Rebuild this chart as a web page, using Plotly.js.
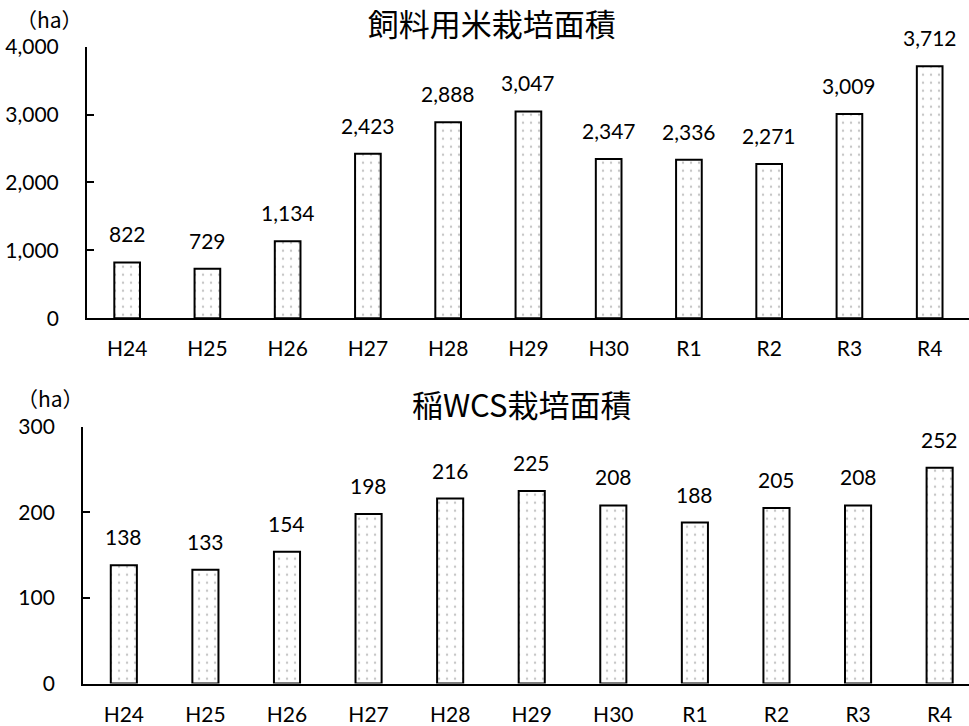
<!DOCTYPE html>
<html>
<head>
<meta charset="utf-8">
<script src="https://cdn.plot.ly/plotly-3.0.1.min.js"></script>
<style>html,body{margin:0;padding:0;background:#fff;}#chart{width:969px;height:726px;}</style>
</head>
<body>
<div id="chart"></div>
<script>
const categories = ["H24","H25","H26","H27","H28","H29","H30","R1","R2","R3","R4"];
const feedRice = [822, 729, 1134, 2423, 2888, 3047, 2347, 2336, 2271, 3009, 3712];
const wcs = [138, 133, 154, 198, 216, 225, 208, 188, 205, 208, 252];
const title1 = "飼料用米栽培面積";
const title2 = "稲WCS栽培面積";
const unitLabel = "（ha）";

const LAT = "Lato, 'Noto Sans', sans-serif";
const JP = "'Noto Sans CJK JP', sans-serif";

const pattern = {shape: ".", fgcolor: "#8a8a8a", bgcolor: "#ffffff", size: 8, solidity: 0.07, fillmode: "overlay"};

function barTrace(y, xa, ya) {
  return {
    type: "bar", x: categories, y: y, xaxis: xa, yaxis: ya, width: 0.32,
    marker: {color: "#ffffff", line: {color: "#000000", width: 2}, pattern: pattern},
    hoverinfo: "skip", showlegend: false
  };
}

function labels(y, xa, ya) {
  return categories.map((c, i) => ({
    x: c, y: y[i], xref: xa, yref: ya, text: y[i].toLocaleString("en-US"),
    showarrow: false, yanchor: "bottom", yshift: 14,
    font: {family: LAT, size: 21, color: "#000", weight: "normal"}
  }));
}

const axisX = (domain, range, anchor) => ({
  domain: domain, anchor: anchor, type: "category", range: range,
  showline: true, linecolor: "#000", linewidth: 2, ticks: "", showgrid: false,
  zeroline: false, ticklabelstandoff: 11,
  tickfont: {family: LAT, size: 21, color: "#000", weight: "normal"}
});
const axisY = (domain, range, dtick, anchor, fmt) => ({
  domain: domain, anchor: anchor, range: range, dtick: dtick, tickformat: fmt,
  showline: true, linecolor: "#000", linewidth: 2, ticks: "inside", ticklen: 7, tickwidth: 2, tickcolor: "#000",
  showgrid: false, zeroline: false, ticklabelstandoff: 22,
  tickfont: {family: LAT, size: 21, color: "#000", weight: "normal"}
});

const data = [barTrace(feedRice, "x", "y"), barTrace(wcs, "x2", "y2")];

const layout = {
  width: 969, height: 726,
  margin: {l: 0, r: 0, t: 0, b: 0},
  paper_bgcolor: "#fff", plot_bgcolor: "#fff",
  bargap: 0.68,
  title: {text: title1, x: 0.5074, y: 0.9656, xanchor: "center", yanchor: "middle",
          font: {family: JP, size: 31, color: "#000", weight: "normal"}},
  xaxis: axisX([0.0898, 1], [-0.5, 10.49], "y"),
  yaxis: axisY([0.5616, 0.9357], [0, 4000], 1000, "x", ",d"),
  xaxis2: axisX([0.0857, 1], [-0.5, 10.36], "y2"),
  yaxis2: axisY([0.0585, 0.4123], [0, 300], 100, "x2", "d"),
  annotations: [
    {text: title2, xref: "paper", yref: "paper", x: 0.5382, y: 0.4449, xanchor: "center", yanchor: "middle",
     showarrow: false, font: {family: JP, size: 31, color: "#000", weight: "normal"}},
    {text: unitLabel, xref: "paper", yref: "paper", x: 0.0506, y: 0.9745, xanchor: "center", yanchor: "middle",
     showarrow: false, font: {family: JP, size: 21, color: "#000"}},
    {text: unitLabel, xref: "paper", yref: "paper", x: 0.0526, y: 0.4514, xanchor: "center", yanchor: "middle",
     showarrow: false, font: {family: JP, size: 21, color: "#000"}}
  ].concat(labels(feedRice, "x", "y"), labels(wcs, "x2", "y2"))
};

Plotly.newPlot("chart", data, layout, {staticPlot: true, displayModeBar: false});
</script>
</body>
</html>
